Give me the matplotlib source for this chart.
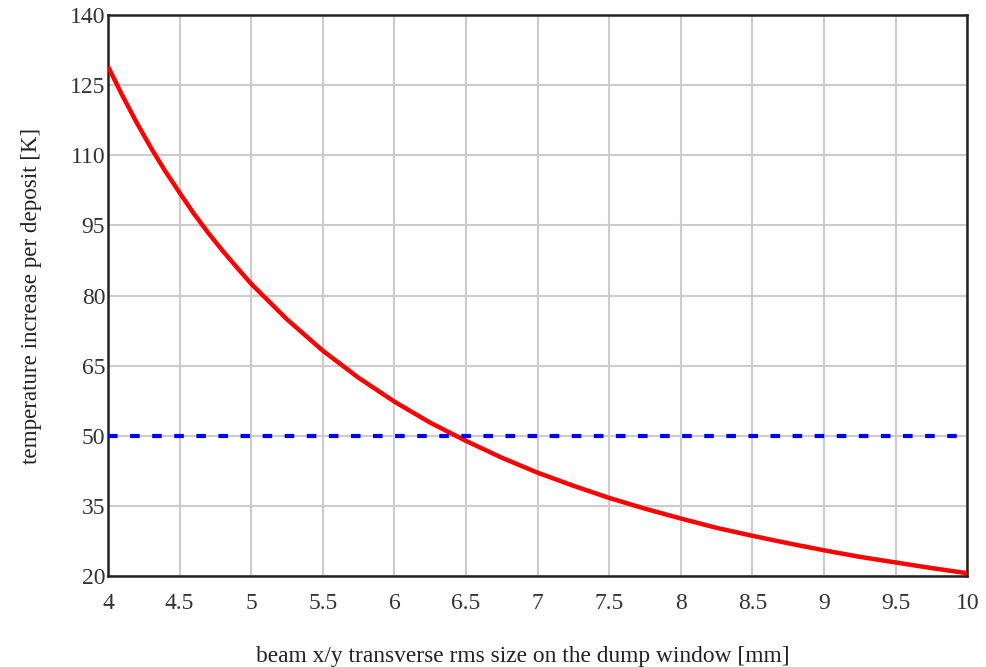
import matplotlib
matplotlib.use("Agg")
import matplotlib.pyplot as plt

# beam rms size [mm] vs temperature rise per deposit [K]
size_mm = [4.0, 4.1, 4.2, 4.3, 4.4, 4.5, 4.6, 4.7, 4.8, 4.9, 5.0, 5.25, 5.5,
           5.75, 6.0, 6.25, 6.5, 6.75, 7.0, 7.25, 7.5, 7.75, 8.0, 8.25, 8.5,
           8.75, 9.0, 9.25, 9.5, 9.75, 10.0]
temp_rise = [129.0, 122.8, 117.0, 111.6, 106.6, 102.0, 97.5, 93.4, 89.6, 86.0,
             82.5, 74.9, 68.2, 62.4, 57.3, 52.8, 48.9, 45.3, 42.1, 39.3, 36.7,
             34.4, 32.3, 30.3, 28.6, 27.0, 25.5, 24.1, 22.9, 21.7, 20.6]
limit_K = 50

xticks = [4, 4.5, 5, 5.5, 6, 6.5, 7, 7.5, 8, 8.5, 9, 9.5, 10]
xticklabels = ["4", "4.5", "5", "5.5", "6", "6.5", "7", "7.5", "8", "8.5", "9", "9.5", "10"]
yticks = [20, 35, 50, 65, 80, 95, 110, 125, 140]

plt.rcParams['font.family'] = ['Liberation Serif', 'DejaVu Serif']

fig = plt.figure(figsize=(9.86, 6.67), dpi=100)
ax = fig.add_axes([0.1095, 0.1364, 0.8715, 0.8411])

ax.plot(size_mm, temp_rise, color='red', lw=3.2, solid_capstyle='butt', zorder=3)
ax.axhline(limit_K, color='blue', lw=3, ls=(0, (2.3, 3)), zorder=3)

ax.set_xlim(4, 10)
ax.set_ylim(20, 140)
ax.set_xticks(xticks)
ax.set_xticklabels(xticklabels)
ax.set_yticks(yticks)
ax.grid(True, color='#cccccc', lw=1.5)
ax.set_axisbelow(True)
ax.tick_params(length=0, labelsize=17, colors='#333333')
ax.tick_params(axis='x', pad=12)
ax.tick_params(axis='y', pad=2)
for s in ax.spines.values():
    s.set_color('#222222')
    s.set_linewidth(1.8)

ax.set_xlabel("beam x/y transverse rms size on the dump window [mm]", fontsize=16.8,
              color='#222222')
ax.xaxis.set_label_coords(0.483, -0.125)
ax.set_ylabel("temperature increase per deposit [K]", fontsize=16.6,
              color='#222222', labelpad=20)

fig.savefig("out.png", dpi=100)
